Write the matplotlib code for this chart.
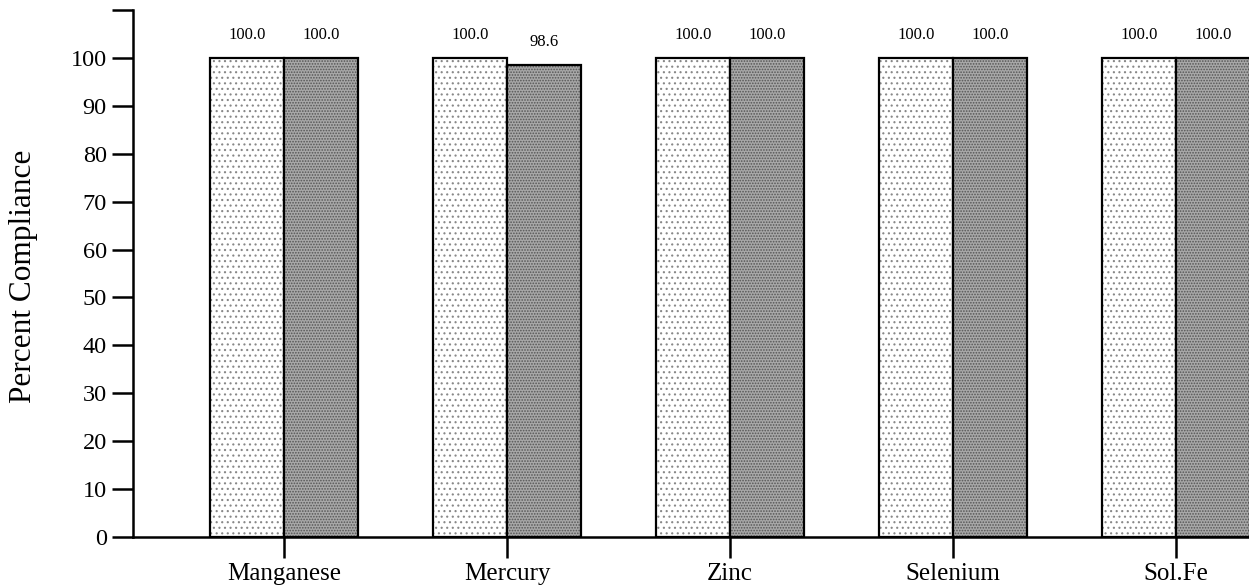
import matplotlib
matplotlib.use("Agg")
import matplotlib.pyplot as plt
import numpy as np

categories = ["Manganese", "Mercury", "Zinc", "Selenium", "Sol.Fe"]
series_a = [100.0, 100.0, 100.0, 100.0, 100.0]
series_b = [100.0, 98.6, 100.0, 100.0, 100.0]
y_ticks = [0, 10, 20, 30, 40, 50, 60, 70, 80, 90, 100, 110]

plt.rcParams['font.family'] = ['Liberation Serif', 'DejaVu Serif']
plt.rcParams['hatch.linewidth'] = 0.8

fig = plt.figure(figsize=(12.49, 5.87), dpi=100)
ax = fig.add_axes([0.1065, 0.0852, 0.8935, 0.8978])

x = np.arange(len(categories))
w = 0.333
ba = ax.bar(x - w/2, series_a, w, facecolor='white', edgecolor='black',
            linewidth=1.6, hatch='...')
bb = ax.bar(x + w/2, series_b, w, facecolor='#a8a8a8', edgecolor='black',
            linewidth=1.6, hatch='......')
for b in ba:
    b._hatch_color = matplotlib.colors.to_rgba('#888888')
for b in bb:
    b._hatch_color = matplotlib.colors.to_rgba('#555555')

for xi, v in zip(x - w/2, series_a):
    ax.text(xi, v + 4.8, f"{v:.1f}", ha='center', va='center', fontsize=12)
for xi, v in zip(x + w/2, series_b):
    ax.text(xi, v + 4.8, f"{v:.1f}", ha='center', va='center', fontsize=12)

ax.set_xlim(-0.677, 4.327)
ax.set_ylim(0, 110)
ax.set_yticks(y_ticks)
ax.set_yticklabels([str(t) if t <= 100 else '' for t in y_ticks])
ax.set_xticks(x)
ax.set_xticklabels(categories)
ax.tick_params(axis='y', direction='out', length=15, width=1.8, labelsize=17.5, pad=4)
ax.tick_params(axis='x', direction='out', length=15, width=1.8, labelsize=18, pad=4)
for s in ['top', 'right']:
    ax.spines[s].set_visible(False)
ax.spines['left'].set_linewidth(1.8)
ax.spines['bottom'].set_linewidth(1.8)
ax.set_ylabel("Percent Compliance", fontsize=22.5)
ax.yaxis.set_label_coords(-0.085, 0.495)

fig.savefig("out.png", dpi=100)
